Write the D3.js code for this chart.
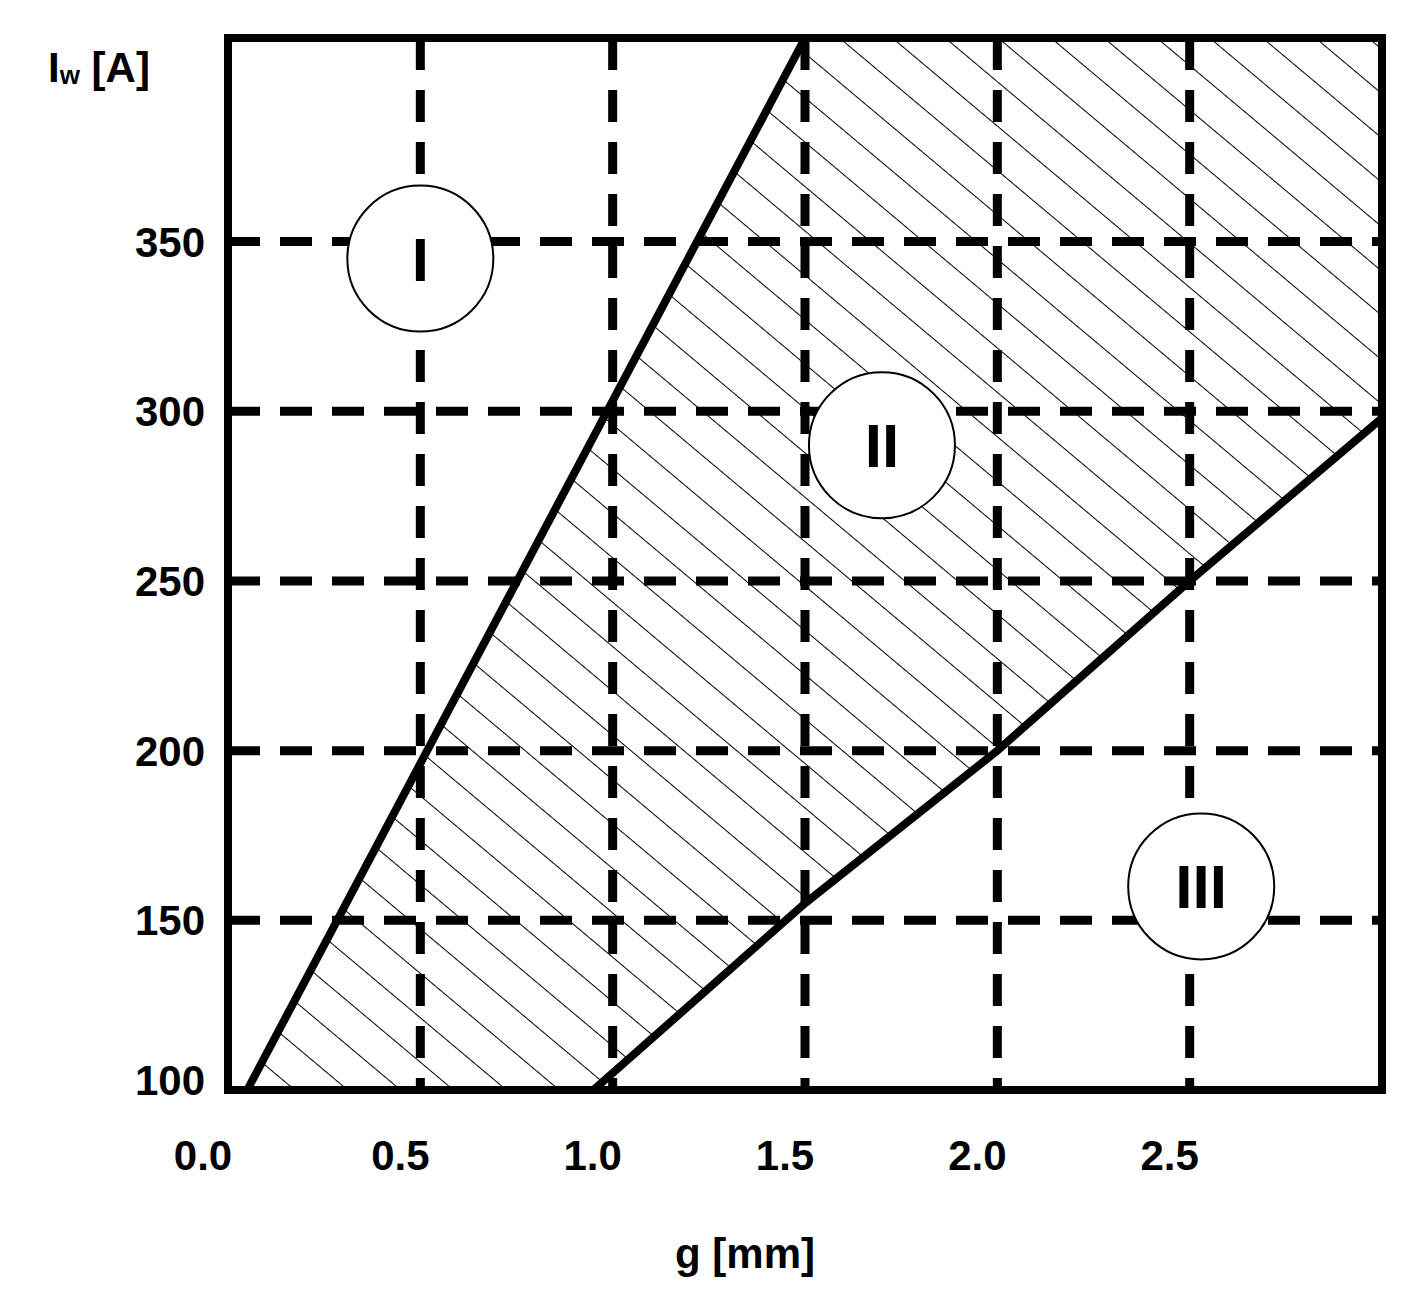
<!DOCTYPE html>
<html><head><meta charset="utf-8">
<script src="https://cdn.jsdelivr.net/npm/d3@7"></script>
<style>body{margin:0;background:#fff}text{font-family:"Liberation Sans",Arial,sans-serif;font-weight:bold}</style>
</head><body><svg id="c" width="1426" height="1311"></svg>
<script>
// axis ticks
const xTicks = [0.0, 0.5, 1.0, 1.5, 2.0, 2.5];
const yTicks = [100, 150, 200, 250, 300, 350];
// region boundaries
const boundaryI = [[0.05, 100], [1.5, 410]];
const boundaryIII = [[0.95, 100], [1.5, 155], [2.0, 200], [2.5, 250], [3.0, 298]];
// region labels
const regions = [
  {name: "I", g: 0.5, iw: 345},
  {name: "II", g: 1.7, iw: 290},
  {name: "III", g: 2.53, iw: 160}
];

const svg = d3.select("#c");
const x = d3.scaleLinear().domain([0, 3]).range([228, 1382]);
const y = d3.scaleLinear().domain([100, 410]).range([1090, 38]);

// hatched region II
const defs = svg.append("defs");
defs.append("pattern").attr("id", "hatch").attr("patternUnits", "userSpaceOnUse")
  .attr("width", 34).attr("height", 34).attr("patternTransform", "rotate(-50)")
  .append("line").attr("x1", 0).attr("y1", 0).attr("x2", 0).attr("y2", 34)
  .attr("stroke", "#000").attr("stroke-width", 2);

const poly = [boundaryI[0], boundaryI[1], [3.0, 410], ...boundaryIII.slice().reverse()];
svg.append("path").attr("d", d3.line().x(d => x(d[0])).y(d => y(d[1]))(poly) + "Z")
  .attr("fill", "url(#hatch)");

// grid
const grid = svg.append("g").attr("stroke", "#000").attr("stroke-width", 9)
  .attr("stroke-dasharray", "32,20");
xTicks.slice(1).forEach(t => grid.append("line")
  .attr("x1", x(t)).attr("x2", x(t)).attr("y1", y(410)).attr("y2", y(100)));
yTicks.slice(1).forEach(t => grid.append("line")
  .attr("x1", x(0)).attr("x2", x(3)).attr("y1", y(t)).attr("y2", y(t)));

// boundaries
const line = d3.line().x(d => x(d[0])).y(d => y(d[1]));
[boundaryI, boundaryIII].forEach(b => svg.append("path").attr("d", line(b))
  .attr("fill", "none").attr("stroke", "#000").attr("stroke-width", 8));

// frame
svg.append("rect").attr("x", x(0)).attr("y", y(410))
  .attr("width", x(3) - x(0)).attr("height", y(100) - y(410))
  .attr("fill", "none").attr("stroke", "#000").attr("stroke-width", 8);

// region circles
regions.forEach(r => {
  svg.append("circle").attr("cx", x(r.g)).attr("cy", y(r.iw)).attr("r", 73)
    .attr("fill", "#fff").attr("stroke", "#000").attr("stroke-width", 2);
  svg.append("text").attr("x", x(r.g)).attr("y", y(r.iw) + 22)
    .attr("text-anchor", "middle").attr("font-size", 62).text(r.name);
});

// ticks
svg.selectAll(".xt").data(xTicks).join("text").attr("class", "xt")
  .attr("x", d => x(d) - (d === 0 ? 25 : 20)).attr("y", 1170).attr("text-anchor", "middle")
  .attr("font-size", 42).text(d => d.toFixed(1));
svg.selectAll(".yt").data(yTicks).join("text").attr("class", "yt")
  .attr("x", 205).attr("y", d => y(d) + 15 - (d === 100 ? 10 : 0)).attr("text-anchor", "end")
  .attr("font-size", 42).text(d => d);

// axis titles
const yt = svg.append("text").attr("x", 48).attr("y", 82).attr("font-size", 42);
yt.append("tspan").text("I");
yt.append("tspan").attr("font-size", 26).attr("dy", 2).text("w");
yt.append("tspan").attr("dy", -2).text(" [A]");
svg.append("text").attr("x", 745).attr("y", 1268).attr("text-anchor", "middle")
  .attr("font-size", 42).text("g [mm]");
</script></body></html>
